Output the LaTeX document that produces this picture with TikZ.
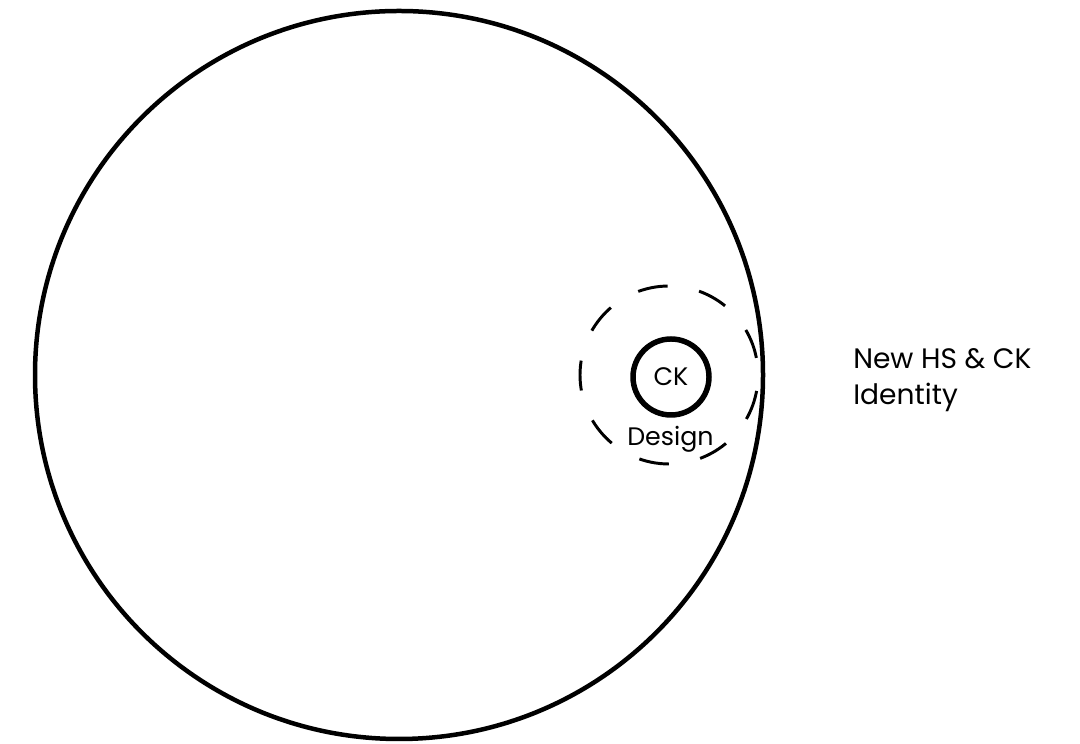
\documentclass[tikz,border=0pt]{standalone}
\usepackage{fontspec}
\setmainfont{Poppins}
\usepackage{tikz}
\usetikzlibrary{positioning}
\definecolor{ink}{HTML}{000000}

\begin{document}
\begin{tikzpicture}[font=\fontsize{18}{22}\selectfont,
  ring/.style={ink,line width=3.2pt},
  zone/.style={ink,line width=2.1pt,dash pattern=on 0.75cm off 0.80cm,dash phase=1.12cm},
  core/.style={circle,draw=ink,line width=3.9pt,minimum size=1.9cm,inner sep=0pt}]
\useasboundingbox (0,0) rectangle (27,18.6);
\draw[ring] (9.975,9.225) circle (9.1);
\draw[zone] (16.725,9.225) circle (2.225);
\node[core] (ck) at (16.775,9.175) {CK};
\node[anchor=base] (design) at (16.76,7.46) {Design};
\node[anchor=base west,align=left,inner sep=0pt,font=\fontsize{20}{26.3}\selectfont] (identity) at (21.325,8.475) {New HS \& CK\\Identity};
\end{tikzpicture}
\end{document}
